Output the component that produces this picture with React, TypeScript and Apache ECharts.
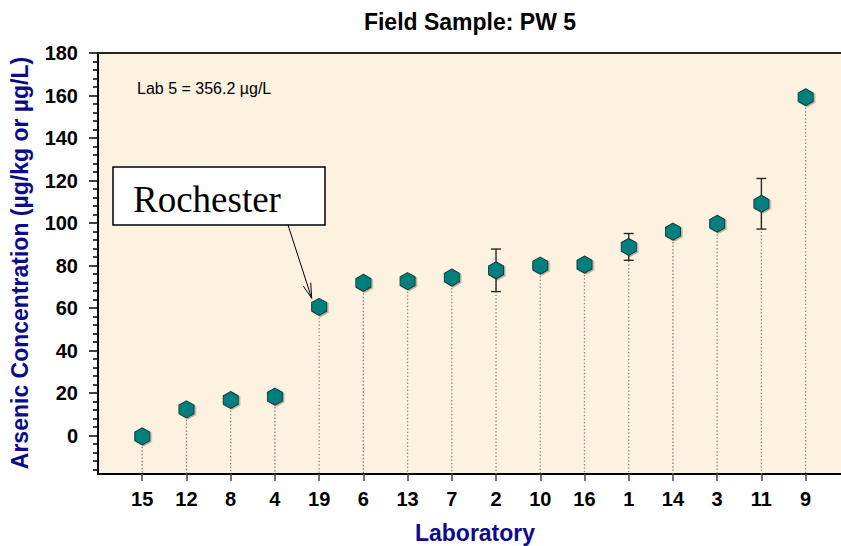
import React, { useEffect, useRef } from "react";
import * as echarts from "echarts";

const labs = ["15", "12", "8", "4", "19", "6", "13", "7", "2", "10", "16", "1", "14", "3", "11", "9"];
const values = [-0.3, 12.4, 16.8, 18.4, 60.6, 71.9, 72.7, 74.4, 77.8, 80.0, 80.5, 88.8, 96.0, 99.7, 109.1, 159.2];
const errors = [0, 0, 0, 0, 0, 0, 0, 0, 10, 0, 0, 6.3, 0, 0, 11.9, 0];
const yTicks = [0, 20, 40, 60, 80, 100, 120, 140, 160, 180];
const Y_MIN = -18;
const Y_MAX = 180;
const X_MAX = 16.8;

const FONT = "'Liberation Sans', Arial, sans-serif";
const NAVY = "#0c0c8a";

export default function App() {
  const ref = useRef<HTMLDivElement>(null);

  useEffect(() => {
    if (!ref.current) return;
    const chart = echarts.init(ref.current, undefined, { renderer: "svg" });

    const xTicks = labs.map((_, i) => i + 1);
    const minorTicks: number[] = [];
    for (let v = -16; v <= Y_MAX; v += 4) {
      if (v % 20 !== 0) minorTicks.push(v);
    }
    const hexPath = "path://M0,-10 L8.66,-5 L8.66,5 L0,10 L-8.66,5 L-8.66,-5 Z";

    chart.setOption({
      animation: false,
      grid: {
        left: 98,
        top: 53,
        right: 0,
        bottom: 72,
        show: true,
        backgroundColor: "#fdf1df",
        borderWidth: 0,
      },
      xAxis: [
        {
          type: "value",
          min: 0,
          max: X_MAX,
          position: "bottom",
          axisLine: { show: true, onZero: false, lineStyle: { color: "#000", width: 2 } },
          axisTick: { show: true, length: 7, customValues: xTicks, lineStyle: { color: "#444", width: 1.5 } },
          axisLabel: {
            customValues: xTicks,
            formatter: (v: number) => labs[Math.round(v) - 1] ?? "",
            fontSize: 20,
            fontWeight: "bold",
            fontFamily: FONT,
            color: "#000",
            margin: 15,
          },
          splitLine: { show: false },
        },
        {
          type: "value",
          min: 0,
          max: X_MAX,
          position: "top",
          axisLine: { show: true, onZero: false, lineStyle: { color: "#222", width: 2 } },
          axisTick: { show: false },
          axisLabel: { show: false },
          splitLine: { show: false },
        },
      ],
      yAxis: [
        {
          type: "value",
          min: Y_MIN,
          max: Y_MAX,
          position: "left",
          axisLine: { show: true, onZero: false, lineStyle: { color: "#000", width: 2 } },
          axisTick: { show: true, length: 9, customValues: yTicks, lineStyle: { color: "#000", width: 1.5 } },
          axisLabel: {
            customValues: yTicks,
            fontSize: 20,
            fontWeight: "bold",
            fontFamily: FONT,
            color: "#000",
            margin: 20,
          },
          splitLine: { show: false },
        },
        {
          type: "value",
          min: Y_MIN,
          max: Y_MAX,
          position: "left",
          axisLine: { show: false, onZero: false },
          axisTick: { show: true, length: 5, customValues: minorTicks, lineStyle: { color: "#000", width: 1.5 } },
          axisLabel: { show: false },
          splitLine: { show: false },
        },
      ],
      series: [
        {
          type: "custom",
          xAxisIndex: 0,
          yAxisIndex: 0,
          z: 2,
          data: values.map((v, i) => [i + 1, v, errors[i]]),
          encode: { x: 0, y: 1 },
          renderItem: (params: any, api: any) => {
            const x = api.value(0);
            const v = api.value(1);
            const e = api.value(2);
            const top = api.coord([x, v]);
            const bot = api.coord([x, Y_MIN]);
            const children: any[] = [
              {
                type: "line",
                shape: { x1: top[0], y1: top[1], x2: bot[0], y2: bot[1] },
                style: { stroke: "#808080", lineWidth: 1.3, lineDash: [1.3, 2.2] },
              },
            ];
            if (e > 0) {
              const hi = api.coord([x, v + e]);
              const lo = api.coord([x, v - e]);
              const cw = 5;
              const st = { stroke: "#2a2a2a", lineWidth: 1.4 };
              children.push(
                { type: "line", shape: { x1: hi[0], y1: hi[1], x2: lo[0], y2: lo[1] }, style: st },
                { type: "line", shape: { x1: hi[0] - cw, y1: hi[1], x2: hi[0] + cw, y2: hi[1] }, style: st },
                { type: "line", shape: { x1: lo[0] - cw, y1: lo[1], x2: lo[0] + cw, y2: lo[1] }, style: st }
              );
            }
            return { type: "group", children };
          },
        },
        {
          type: "scatter",
          xAxisIndex: 0,
          yAxisIndex: 0,
          z: 5,
          symbol: hexPath,
          symbolSize: [15, 17],
          data: values.map((v, i) => [i + 1, v]),
          itemStyle: {
            color: "#027f7f",
            borderColor: "#183a3a",
            borderWidth: 1,
            shadowColor: "rgba(0,0,0,0.3)",
            shadowOffsetX: 1.5,
            shadowOffsetY: 1,
            shadowBlur: 1,
            opacity: 1,
          },
        },
      ],
      graphic: [
        {
          type: "text",
          x: 470,
          y: 22,
          style: {
            text: "Field Sample: PW 5",
            font: `bold 23px ${FONT}`,
            fill: "#000",
            textAlign: "center",
            textVerticalAlign: "middle",
          },
        },
        {
          type: "text",
          x: 20,
          y: 263,
          rotation: Math.PI / 2,
          style: {
            text: "Arsenic Concentration (µg/kg or µg/L)",
            font: `bold 23px ${FONT}`,
            fill: NAVY,
            textAlign: "center",
            textVerticalAlign: "middle",
          },
        },
        {
          type: "text",
          x: 475,
          y: 533,
          style: {
            text: "Laboratory",
            font: `bold 23px ${FONT}`,
            fill: NAVY,
            textAlign: "center",
            textVerticalAlign: "middle",
          },
        },
        {
          type: "text",
          x: 137,
          y: 88,
          z: 10,
          style: {
            text: "Lab 5 = 356.2 µg/L",
            font: `16px ${FONT}`,
            fill: "#000",
            textAlign: "left",
            textVerticalAlign: "middle",
          },
        },
        {
          type: "rect",
          z: 10,
          shape: { x: 113, y: 167, width: 212, height: 58 },
          style: { fill: "#fff", stroke: "#000", lineWidth: 1.5 },
        },
        {
          type: "text",
          x: 133,
          y: 199,
          z: 11,
          style: {
            text: "Rochester",
            font: `37px 'Liberation Serif', 'Times New Roman', serif`,
            fill: "#000",
            textAlign: "left",
            textVerticalAlign: "middle",
          },
        },
        {
          type: "line",
          z: 10,
          shape: { x1: 288, y1: 225, x2: 311.7, y2: 298.3 },
          style: { stroke: "#000", lineWidth: 1 },
        },
        {
          type: "polyline",
          z: 10,
          shape: { points: [[303.3, 286], [311.7, 298.3], [310.7, 282.7]] },
          style: { stroke: "#000", lineWidth: 1, fill: null },
        },
      ],
    });

    return () => chart.dispose();
  }, []);

  return (
    <div
      ref={ref}
      style={{ position: "absolute", left: 0, top: 0, width: 841, height: 546 }}
    />
  );
}
